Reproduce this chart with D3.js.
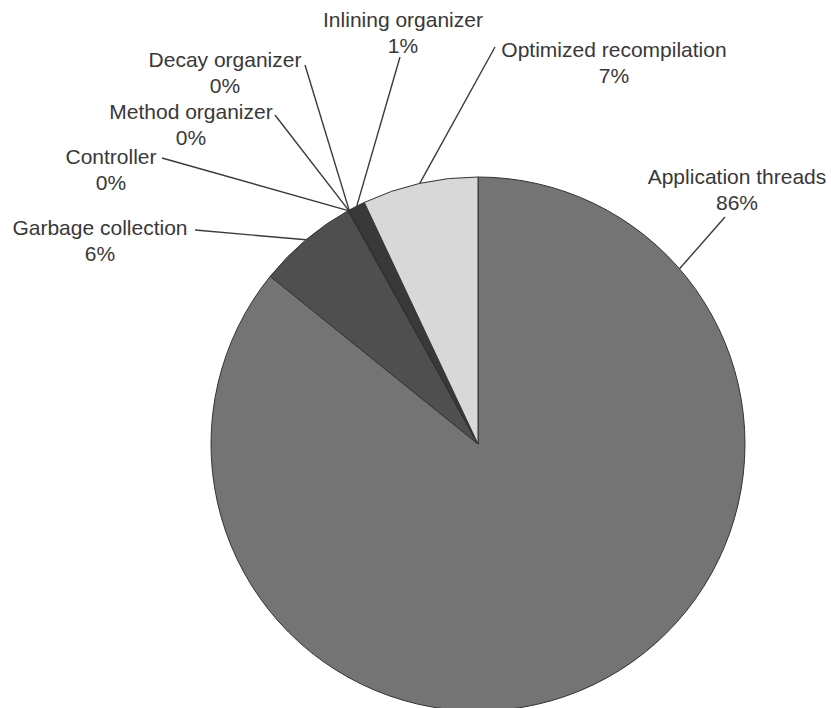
<!DOCTYPE html>
<html>
<head>
<meta charset="utf-8">
<script src="https://cdn.jsdelivr.net/npm/d3@7"></script>
<style>
  html, body { margin: 0; padding: 0; background: #fff; }
  svg { display: block; }
  .lbl { font-family: "Liberation Sans", Arial, Helvetica, sans-serif; font-size: 21px; fill: #383838; }
</style>
</head>
<body>
<svg width="831" height="708"></svg>
<script>
// Slices in clockwise order starting at 12 o'clock
const categories = ["Application threads", "Garbage collection", "Controller", "Method organizer",
                    "Decay organizer", "Inlining organizer", "Optimized recompilation"];
const shares = [85.8, 6.1, 0.03, 0.03, 0.03, 1.0, 7.0];
const fills = ["#747474", "#4f4f4f", "#4f4f4f", "#4f4f4f", "#4f4f4f", "#393939", "#d8d8d8"];

// Label layout: text centre, where the leader starts, optional anchor angle on the rim
const labelLayout = [
    {x: 737, y: 177, lx: 725, ly: 217, anchorDeg: 49},
    {x: 100, y: 228, lx: 195, ly: 230},
    {x: 111, y: 157, lx: 162, ly: 158},
    {x: 191, y: 112, lx: 275, ly: 115},
    {x: 225, y: 60,  lx: 305, ly: 65},
    {x: 403, y: 20,  lx: 400, ly: 57},
    {x: 614, y: 50,  lx: 495, ly: 47}
];

const svg = d3.select("svg");
const cx = 478, cy = 444, radius = 267;
const lineGap = 26;

const data = categories.map((name, i) => ({name: name, value: shares[i], fill: fills[i], layout: labelLayout[i]}));

const pie = d3.pie().sort(null).value(d => d.value);
const arc = d3.arc().innerRadius(0).outerRadius(radius);
const arcs = pie(data);

const g = svg.append("g").attr("transform", `translate(${cx},${cy})`);

g.selectAll("path")
    .data(arcs)
    .enter()
    .append("path")
    .attr("d", arc)
    .attr("fill", d => d.data.fill)
    .attr("stroke", "#333")
    .attr("stroke-width", 1)
    .attr("stroke-linejoin", "round");

// Leader lines
const rimPoint = d => {
    const a = d.data.layout.anchorDeg != null
        ? d.data.layout.anchorDeg * Math.PI / 180
        : (d.startAngle + d.endAngle) / 2;
    return [cx + radius * Math.sin(a), cy - radius * Math.cos(a)];
};

svg.selectAll("line.leader")
    .data(arcs)
    .enter()
    .append("line")
    .attr("class", "leader")
    .attr("x1", d => d.data.layout.lx)
    .attr("y1", d => d.data.layout.ly)
    .attr("x2", d => rimPoint(d)[0])
    .attr("y2", d => rimPoint(d)[1])
    .attr("stroke", "#3a3a3a")
    .attr("stroke-width", 1.4);

// Labels: name on the first line, rounded share below
const fmt = d3.format(".0f");
const labels = svg.selectAll("g.label")
    .data(arcs)
    .enter()
    .append("g")
    .attr("class", "label");

labels.append("text")
    .attr("class", "lbl")
    .attr("x", d => d.data.layout.x)
    .attr("y", d => d.data.layout.y)
    .attr("dy", "0.35em")
    .attr("text-anchor", "middle")
    .text(d => d.data.name);

labels.append("text")
    .attr("class", "lbl")
    .attr("x", d => d.data.layout.x)
    .attr("y", d => d.data.layout.y + lineGap)
    .attr("dy", "0.35em")
    .attr("text-anchor", "middle")
    .text(d => fmt(d.data.value) + "%");
</script>
</body>
</html>
